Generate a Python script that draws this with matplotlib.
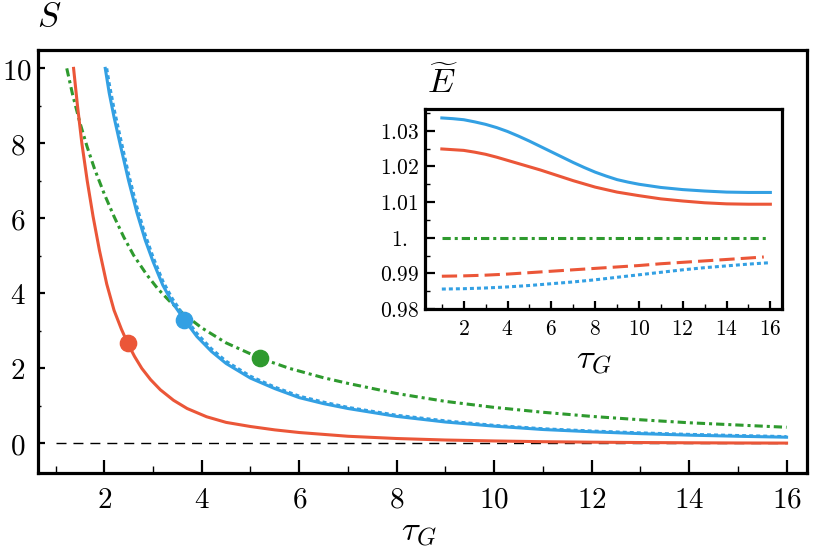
import numpy as np
import matplotlib
matplotlib.use("Agg")
import matplotlib.pyplot as plt
from matplotlib.ticker import FixedLocator, FixedFormatter

# Computer Modern look for all math text
plt.rcParams['mathtext.fontset'] = 'cm'

# colours of the three families of curves
red = '#EB5638'
blue = '#33A0E3'
green = '#2E9A2E'

# main panel: S vs tau_G
tau_red = [1.37, 1.45, 1.54, 1.65, 1.77, 1.90, 2.05, 2.20, 2.35, 2.48, 2.62,
           2.77, 2.95, 3.15, 3.42, 3.7, 4.1, 4.5, 5.0, 5.5, 6.0, 7.0, 8.0,
           9.0, 10.0, 11.0, 12.0, 13.0, 14.0, 15.0, 16.0]
S_red = [10.0, 9.0, 8.0, 7.0, 6.05, 5.15, 4.25, 3.55, 3.05, 2.67, 2.32,
         2.0, 1.70, 1.43, 1.15, 0.93, 0.71, 0.56, 0.45, 0.36, 0.29, 0.19, 0.13,
         0.09, 0.065, 0.045, 0.032, 0.023, 0.016, 0.011, 0.008]

tau_blue = [2.02, 2.1, 2.2, 2.33, 2.5, 2.67, 2.84, 3.0, 3.2, 3.4, 3.64, 3.9,
            4.2, 4.5, 5.0, 5.5, 6.0, 6.5, 7.0, 8.0, 9.0, 10.0, 11.0, 12.0,
            13.0, 14.0, 15.0, 16.0]
S_blue = [10.0, 9.35, 8.7, 7.95, 7.0, 6.15, 5.42, 4.85, 4.22, 3.75, 3.30, 2.85,
          2.45, 2.13, 1.74, 1.46, 1.22, 1.06, 0.93, 0.72, 0.57, 0.46, 0.37, 0.31,
          0.26, 0.22, 0.19, 0.165]

tau_blue_dot = [2.05, 2.1, 2.2, 2.33, 2.5, 2.67, 2.84, 3.0, 3.2, 3.4, 3.64, 3.9,
                4.2, 4.5, 5.0, 5.5, 6.0, 6.5, 7.0, 8.0, 9.0, 10.0, 11.0, 12.0,
                13.0, 14.0, 15.0, 16.0]
S_blue_dot = [10.0, 9.6, 8.92, 8.15, 7.17, 6.3, 5.56, 4.97, 4.33, 3.85, 3.39, 2.93,
              2.52, 2.19, 1.79, 1.50, 1.26, 1.10, 0.96, 0.75, 0.60, 0.48, 0.39, 0.33,
              0.28, 0.24, 0.21, 0.18]

tau_green = [1.23, 1.35, 1.5, 1.65, 1.8, 2.0, 2.2, 2.4, 2.6, 2.87, 3.1, 3.35,
             3.6, 4.0, 4.5, 5.2, 5.8, 6.5, 7.0, 8.0, 9.0, 10.0, 11.0, 12.0,
             13.0, 14.0, 15.0, 16.0]
S_green = [10.0, 9.3, 8.55, 7.9, 7.32, 6.65, 6.05, 5.5, 5.02, 4.5, 4.12, 3.78,
           3.48, 3.08, 2.68, 2.27, 2.0, 1.75, 1.6, 1.33, 1.12, 0.96, 0.83, 0.72,
           0.63, 0.55, 0.49, 0.43]

# highlighted points
dot_tau = [2.48, 3.64, 5.20]
dot_S = [2.67, 3.30, 2.27]
dot_col = [red, blue, green]

# inset: E tilde vs tau_G
tau_E_solid = [1, 1.5, 2, 2.5, 3, 3.5, 4, 4.5, 5, 5.5, 6, 6.5, 7, 7.5, 8, 8.5,
               9, 9.5, 10, 11, 12, 13, 14, 15, 16]
E_blue = [1.0336, 1.0334, 1.0331, 1.0325, 1.0318, 1.0309, 1.0298, 1.0285,
          1.0271, 1.0256, 1.0241, 1.0226, 1.0211, 1.0197, 1.0184, 1.0173,
          1.0163, 1.0156, 1.0150, 1.0141, 1.0135, 1.0131, 1.0128, 1.0127, 1.0127]
E_red = [1.0249, 1.0247, 1.0245, 1.0240, 1.0234, 1.0226, 1.0217, 1.0208,
         1.0199, 1.0190, 1.0180, 1.0170, 1.0160, 1.0151, 1.0142, 1.0135,
         1.0128, 1.0123, 1.0118, 1.0109, 1.0103, 1.0098, 1.0095, 1.0094, 1.0094]
tau_E_green = [1, 15.85]
E_green = [1.0, 1.0]
tau_E_dash = [1, 2, 3, 4, 5, 6, 7, 8, 9, 10, 11, 12, 13, 14, 15, 15.7]
E_red_dash = [0.9892, 0.9893, 0.9895, 0.9898, 0.9902, 0.9906, 0.9910, 0.9914,
              0.9918, 0.9922, 0.9927, 0.9931, 0.9935, 0.9939, 0.9943, 0.9946]
tau_E_dot = [1, 2, 3, 4, 5, 6, 7, 8, 9, 10, 11, 12, 13, 14, 15, 16]
E_blue_dot = [0.9856, 0.9857, 0.9859, 0.9862, 0.9866, 0.9871, 0.9876, 0.9882,
              0.9889, 0.9896, 0.9903, 0.9910, 0.9916, 0.9921, 0.9926, 0.9930]

main_xticks = [2, 4, 6, 8, 10, 12, 14, 16]
main_yticks = [0, 2, 4, 6, 8, 10]
inset_xticks = [2, 4, 6, 8, 10, 12, 14, 16]
inset_yticks = [0.98, 0.99, 1.00, 1.01, 1.02, 1.03]
inset_ylabels = ['0.98', '0.99', '1.', '1.01', '1.02', '1.03']


def style_axes(ax, xmaj, ymaj, xmin, ymin, xlen, ylen):
    """frame + inward ticks on left/bottom only, Mathematica style"""
    for sp in ax.spines.values():
        sp.set_linewidth(2.3)
    ax.xaxis.set_major_locator(FixedLocator(xmaj))
    ax.yaxis.set_major_locator(FixedLocator(ymaj))
    ax.xaxis.set_minor_locator(FixedLocator(xmin))
    ax.yaxis.set_minor_locator(FixedLocator(ymin))
    ax.tick_params(which='both', direction='in', top=False, right=False)
    ax.tick_params(axis='x', which='major', length=xlen[0], width=1.6)
    ax.tick_params(axis='x', which='minor', length=xlen[1], width=1.0)
    ax.tick_params(axis='y', which='major', length=ylen[0], width=1.6)
    ax.tick_params(axis='y', which='minor', length=ylen[1], width=1.0)


fig = plt.figure(figsize=(8.22, 5.58), dpi=100)

# ---- main panel ----
ax = fig.add_axes([0.0466, 0.1523, 0.9352, 0.7581])
ax.plot([1, 16], [0, 0], color='black', lw=1.0, dashes=(7.2, 5), zorder=1)
ax.plot(tau_green, S_green, color=green, lw=2.2, dashes=(2.7, 1.3, 1.0, 1.3), zorder=2)
ax.plot(tau_blue_dot, S_blue_dot, color=blue, lw=2.2, dashes=(1.3, 1.0), zorder=2)
ax.plot(tau_blue, S_blue, color=blue, lw=2.2, zorder=3)
ax.plot(tau_red, S_red, color=red, lw=2.2, zorder=3)
for t, s, c in zip(dot_tau, dot_S, dot_col):
    ax.plot(t, s, 'o', color=c, markersize=11.7, zorder=4)

ax.set_xlim(0.646, 16.42)
ax.set_ylim(-0.79, 10.49)
style_axes(ax, main_xticks, main_yticks, list(range(1, 16, 2)), [1, 3, 5, 7, 9],
           (9.5, 5), (5, 2.5))
ax.xaxis.set_major_formatter(FixedFormatter(['$%d$' % v for v in main_xticks]))
ax.yaxis.set_major_formatter(FixedFormatter(['$%d$' % v for v in main_yticks]))
ax.tick_params(axis='x', labelsize=21, pad=9)
ax.tick_params(axis='y', labelsize=21, pad=15)
for lbl in ax.get_yticklabels():
    lbl.set_horizontalalignment('center')

ax.set_xlabel(r'$\tau_G$', fontsize=25)
ax.xaxis.set_label_coords(0.495, -0.10)
ax.text(0.014, 1.08, r'$S$', fontsize=25, transform=ax.transAxes,
        ha='center', va='center')

# ---- inset ----
axi = fig.add_axes([0.517, 0.4462, 0.4343, 0.3584])
axi.plot(tau_E_green, E_green, color=green, lw=2.2, dashes=(2.7, 1.3, 1.0, 1.3))
axi.plot(tau_E_dash, E_red_dash, color=red, lw=2.2, dashes=(5, 2))
axi.plot(tau_E_dot, E_blue_dot, color=blue, lw=2.2, dashes=(1.3, 1.0))
axi.plot(tau_E_solid, E_blue, color=blue, lw=2.2)
axi.plot(tau_E_solid, E_red, color=red, lw=2.2)

axi.set_xlim(0.23, 16.53)
axi.set_ylim(0.98, 1.0361)
style_axes(axi, inset_xticks, inset_yticks, list(range(1, 16, 2)),
           [0.985, 0.995, 1.005, 1.015, 1.025, 1.035], (6, 3.5), (7, 3.5))
axi.xaxis.set_major_formatter(FixedFormatter(['$%d$' % v for v in inset_xticks]))
axi.yaxis.set_major_formatter(FixedFormatter(['$%s$' % s for s in inset_ylabels]))
axi.tick_params(axis='x', labelsize=15.5, pad=7)
axi.tick_params(axis='y', labelsize=15.5, pad=18.5)
for lbl in axi.get_yticklabels():
    lbl.set_horizontalalignment('center')

axi.set_xlabel(r'$\tau_G$', fontsize=25)
axi.xaxis.set_label_coords(0.473, -0.17)
axi.text(0.049, 1.13, r'$\widetilde{E}$', fontsize=25, transform=axi.transAxes,
         ha='center', va='center')

fig.savefig('out.png', dpi=100)
